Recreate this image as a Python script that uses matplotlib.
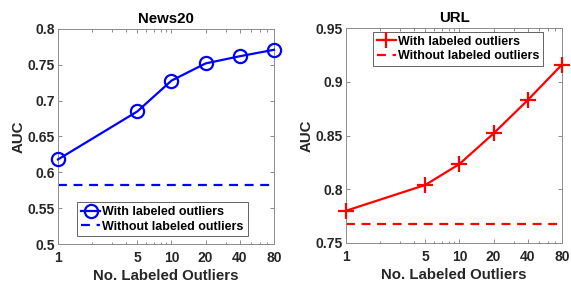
import matplotlib
matplotlib.use("Agg")
import matplotlib.pyplot as plt
from matplotlib.ticker import FixedLocator, NullFormatter

plt.rcParams['font.family'] = ['Liberation Sans', 'DejaVu Sans']
plt.rcParams['font.weight'] = 'bold'

x_labels = [1, 5, 10, 20, 40, 80]
news20_with = [0.618, 0.685, 0.728, 0.752, 0.762, 0.771]
news20_without = 0.583
url_with = [0.780, 0.804, 0.8235, 0.852, 0.883, 0.916]
url_without = 0.768

fig = plt.figure(figsize=(5.71, 2.84), dpi=100)
ax1 = fig.add_axes([58/571, 40/284, 216/571, 215/284])
ax2 = fig.add_axes([346/571, 41/284, 216/571, 215/284])

gray = '#262626'
spine_gray = '#8c8c8c'

def style(ax, title, ylim, yticks, yticklabels):
    ax.set_xscale('log')
    ax.set_xlim(1, 80)
    ax.set_ylim(*ylim)
    ax.xaxis.set_major_locator(FixedLocator(x_labels))
    ax.set_xticklabels([str(v) for v in x_labels])
    ax.xaxis.set_minor_locator(FixedLocator([2, 3, 4, 6, 7, 8, 9, 30, 50, 60, 70]))
    ax.xaxis.set_minor_formatter(NullFormatter())
    ax.set_yticks(yticks)
    ax.set_yticklabels(yticklabels)
    ax.tick_params(which='both', direction='in', top=True, right=True, colors=spine_gray,
                   labelcolor=gray, labelsize=10, width=0.7, pad=2)
    ax.tick_params(axis='x', which='both', pad=5)
    ax.tick_params(which='major', length=3)
    ax.tick_params(which='minor', length=1.8)
    for s in ax.spines.values():
        s.set_color(spine_gray)
        s.set_linewidth(0.7)
    ax.set_title(title, fontsize=10.8, fontweight='bold', pad=4)
    ax.set_xlabel('No. Labeled Outliers', fontsize=10.8, fontweight='bold', color=gray, labelpad=3)
    ax.set_ylabel('AUC', fontsize=10.8, fontweight='bold', color=gray, labelpad=2)

ax1.plot(x_labels, news20_with, color='#0000ff', lw=1.6, marker='o', ms=9.5,
         mfc='none', mew=1.6, label='With labeled outliers', clip_on=False, zorder=3)
ax1.axhline(news20_without, color='#0000ff', lw=1.6, ls=(0, (4, 3)),
            label='Without labeled outliers')
style(ax1, 'News20', (0.5, 0.8), [0.5, 0.55, 0.6, 0.65, 0.7, 0.75, 0.8],
      ['0.5', '0.55', '0.6', '0.65', '0.7', '0.75', '0.8'])
leg1 = ax1.legend(loc='lower left', bbox_to_anchor=(0.09, 0.035), fontsize=9,
                  handlelength=1.5, handletextpad=0.2, borderpad=0.3, labelspacing=0.2,
                  borderaxespad=0, fancybox=False, edgecolor=gray, framealpha=1)
leg1.get_frame().set_linewidth(0.5)

ax2.plot(x_labels, url_with, color='#ff0000', lw=1.6, marker='+', ms=12,
         mew=1.6, label='With labeled outliers', clip_on=False, zorder=3)
ax2.axhline(url_without, color='#ff0000', lw=1.6, ls=(0, (4, 3)),
            label='Without labeled outliers')
style(ax2, 'URL', (0.75, 0.95), [0.75, 0.8, 0.85, 0.9, 0.95],
      ['0.75', '0.8', '0.85', '0.9', '0.95'])
leg2 = ax2.legend(loc='upper left', bbox_to_anchor=(27/216, 1 - 4/215), fontsize=9,
                  handlelength=1.5, handletextpad=0.2, borderpad=0.3, labelspacing=0.2,
                  borderaxespad=0, fancybox=False, edgecolor=gray, framealpha=1)
leg2.get_frame().set_linewidth(0.5)

fig.savefig('out.png', dpi=100)
